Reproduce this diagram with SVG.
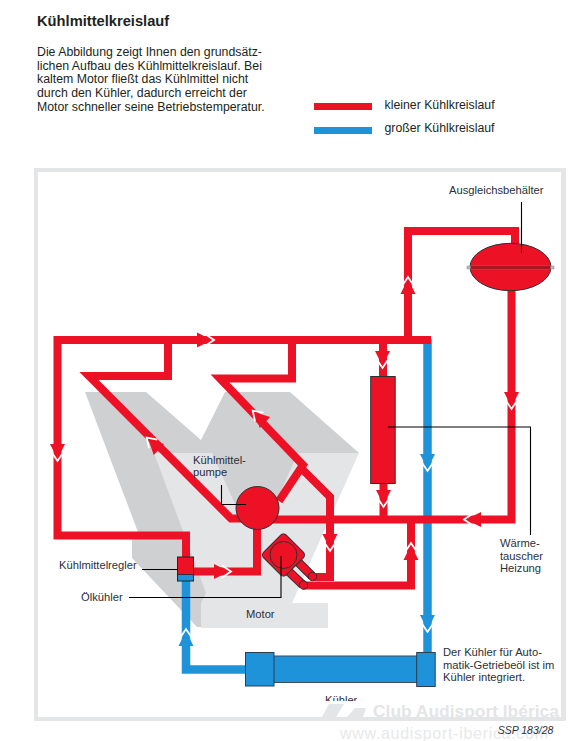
<svg xmlns="http://www.w3.org/2000/svg" width="569" height="741" viewBox="0 0 569 741">
<style>
text{font-family:"Liberation Sans",Arial,sans-serif;font-size:11.2px;fill:#2b2f3a}
.b{font-size:12.3px;fill:#231f20}
.r{fill:none;stroke:#ed1126;stroke-width:8;stroke-linejoin:miter}
.u{fill:none;stroke:#1f93d9;stroke-width:8.5}
.l{fill:none;stroke:#000;stroke-width:1.1}
.rf{fill:#ed1126;stroke:#2f2f33;stroke-width:1}
.uf{fill:#1f93d9;stroke:#2a3f52;stroke-width:1}
.wm{fill:#e4e5e7}
</style>
<defs>
<g id="ar"><path d="M-18-7.500L-3 0L-18 7.500Z"/><path d="M-10-6L-1 0L-10 6" fill="none" stroke="#fff" stroke-width="1.800"/></g>
<clipPath id="kc"><rect x="300" y="680" width="80" height="21"/></clipPath>
</defs>
<g id="heading">
<text x="37" y="26" style="font-size:14.700px;font-weight:bold;fill:#231f20">Kühlmittelkreislauf</text>
<text class="b" x="37" y="56">Die Abbildung zeigt Ihnen den grundsätz-</text>
<text class="b" x="37" y="69.500">lichen Aufbau des Kühlmittelkreislauf. Bei</text>
<text class="b" x="37" y="83">kaltem Motor fließt das Kühlmittel nicht</text>
<text class="b" x="37" y="96.500">durch den Kühler, dadurch erreicht der</text>
<text class="b" x="37" y="110.500">Motor schneller seine Betriebstemperatur.</text>
</g>
<g id="legend">
<rect x="314" y="103" width="58" height="7" fill="#ed1126"/>
<rect x="314" y="127" width="58" height="7" fill="#1f93d9"/>
<text class="b" x="384.500" y="109">kleiner Kühlkreislauf</text>
<text class="b" x="384.500" y="132">großer Kühlkreislauf</text>
</g>
<path id="frame" d="M34 168H566V721H34ZM38 172V717H561V172Z" fill="#e4e5e7" fill-rule="evenodd"/>
<g id="engine">
<path d="M85 392H146L201 440L225 392H290L359 453L222 540L201 627H197L132 558V540L138 532Z" fill="#cfd0d2"/>
<path d="M154 453H212L240 515H270L298 453H359L292 603H328V628H201V603L206 593Z" fill="#e4e5e7"/>
</g>
<g id="watermark">
<path class="wm" d="M322 717L329 704H344L336 717ZM347 717L355 708H366L363 717Z"/>
<text x="373" y="717" style="font-size:17.400px;font-weight:bold;fill:#e4e5e7">Club Audisport Ibérica</text>
<text x="340" y="738.500" style="font-size:16px;letter-spacing:.7px;fill:#e8e9ea">www.audisport-iberica.com</text>
</g>
<g id="connectors">
<path class="u" d="M427.500 339V655"/>
<path class="u" d="M186 580V669.500H246"/>
<path class="r" d="M186 557V535.500H57.500V340H431"/>
<path class="r" d="M168 340V376H89L231 518.500H255"/>
<path class="r" d="M292 340V378.500H220L303 465L279 501"/>
<path class="r" d="M303 470L330 497V577H313"/>
<path class="r" d="M250 519.500H511.500V290"/>
<path class="r" d="M408 340V231H515V245"/>
<path class="r" d="M383 340V378"/>
<path class="r" d="M383.500 483V520"/>
<path class="r" d="M411 519V585.500H303"/>
<path class="r" d="M257 528V571.500H193"/>
<g fill="#ed1126">
<use href="#ar" transform="translate(215,340)"/>
<use href="#ar" transform="translate(57.500,462) rotate(90)"/>
<use href="#ar" transform="translate(146,437) rotate(-136)"/>
<use href="#ar" transform="translate(252,410) rotate(-136)"/>
<use href="#ar" transform="translate(408,276) rotate(-90)"/>
<use href="#ar" transform="translate(511.500,410) rotate(90)"/>
<use href="#ar" transform="translate(382.500,369) rotate(90)"/>
<use href="#ar" transform="translate(383.500,508) rotate(90)"/>
<use href="#ar" transform="translate(463,519.500) rotate(180)"/>
<use href="#ar" transform="translate(330,552) rotate(90)"/>
<use href="#ar" transform="translate(411,542) rotate(-90)"/>
<use href="#ar" transform="translate(232,571.500)"/>
</g>
<g fill="#1f93d9">
<use href="#ar" transform="translate(427.500,472) rotate(90)"/>
<use href="#ar" transform="translate(427.500,633) rotate(90)"/>
<use href="#ar" transform="translate(186,628) rotate(-90)"/>
</g>
</g>
<g id="ausgleich">
<ellipse class="rf" cx="510.500" cy="267" rx="40.500" ry="23.700"/>
<rect x="467" y="266" width="87" height="3" fill="#b9b9bb" stroke="#8b8b8d" stroke-width=".5"/>
<rect x="470.500" y="266" width="80" height="3" fill="#a9161f"/>
<text x="449" y="194">Ausgleichsbehälter</text>
<path class="l" d="M521.500 202V253"/>
</g>
<g id="waermetauscher">
<rect class="rf" x="370.700" y="376.500" width="24.500" height="107"/>
<path class="l" d="M388 427H530.500V535"/>
<text x="500" y="547">Wärme-</text>
<text x="500" y="559.500">tauscher</text>
<text x="500" y="572">Heizung</text>
</g>
<g id="pumpe">
<circle class="rf" cx="257.500" cy="508" r="21.500"/>
<text x="193" y="464">Kühlmittel-</text>
<text x="193" y="476">pumpe</text>
<path class="l" d="M221.500 485V504.500H246"/>
</g>
<g id="oelkuehler">
<path d="M295 559L312 576M283 566L303 585" fill="none" stroke="#2f2f33" stroke-width="9"/>
<path d="M295 559L312 576M283 566L303 585" fill="none" stroke="#ed1126" stroke-width="7.200"/>
<rect class="rf" x="-16" y="-16" width="32" height="32" rx="4" transform="translate(283.500,555) rotate(45)"/>
<circle class="rf" cx="283.500" cy="555" r="13.500"/>
<circle class="rf" cx="312.500" cy="576.500" r="4.200"/>
<circle class="rf" cx="303.500" cy="585" r="4.200"/>
<path class="l" d="M281 556V597.500H129"/>
<text x="81" y="601">Ölkühler</text>
</g>
<g id="regler">
<rect x="177.500" y="557" width="16" height="24" fill="#ed1126"/>
<rect x="177.500" y="574.500" width="16" height="6.500" fill="#1f93d9"/>
<rect x="177.500" y="557" width="16" height="24" fill="none" stroke="#222" stroke-width="1"/>
<path d="M177.500 574.500H193.500" stroke="#222" stroke-width=".8"/>
<path class="l" d="M142 569.500H178"/>
<text x="59" y="569">Kühlmittelregler</text>
</g>
<text id="motor" x="246" y="618">Motor</text>
<g id="kuehler">
<rect x="273" y="656" width="144" height="26.500" fill="#1f93d9" stroke="#3a4d5e" stroke-width="1"/>
<rect class="uf" x="245.500" y="652.500" width="28.500" height="33.500"/>
<rect class="uf" x="416.700" y="652.500" width="18.500" height="34"/>
<text x="325" y="704" clip-path="url(#kc)">Kühler</text>
<text x="443" y="656">Der Kühler für Auto-</text>
<text x="443" y="668.500">matik-Getriebeöl ist im</text>
<text x="443" y="681">Kühler integriert.</text>
</g>
<text id="ssp" x="497.700" y="734" style="font-size:10.500px;font-style:italic">SSP 183/28</text>
</svg>
